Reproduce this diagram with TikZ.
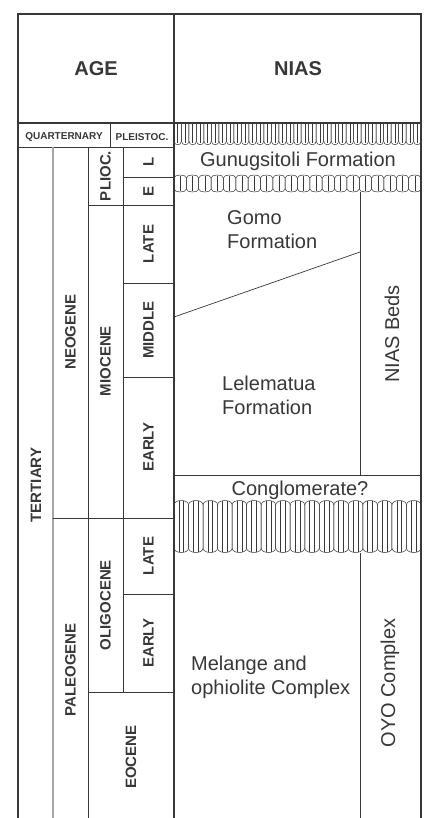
\documentclass[tikz,border=0pt]{standalone}
\usepackage{fontspec}
\setmainfont{Liberation Sans}
\usepackage{tikz}
\usetikzlibrary{calc}
\definecolor{ink}{HTML}{383838}
\tikzset{
  frame/.style={draw=ink,line width=1.4pt},
  rule/.style={draw=ink,line width=0.7pt},
  hatch/.style={draw=ink,line width=0.5pt},
  headlabel/.style={font=\bfseries\fontsize{20}{20}\selectfont,text=ink,inner sep=0pt},
  smalllabel/.style={font=\bfseries\fontsize{10}{10}\selectfont,text=ink,inner sep=0pt},
  agelabel/.style={rotate=90,font=\bfseries\fontsize{15}{15}\selectfont,text=ink,inner sep=0pt},
  unitlabel/.style={font=\fontsize{20}{24}\selectfont,text=ink,inner sep=0pt,align=left},
  sidelabel/.style={rotate=90,font=\fontsize{20}{20}\selectfont,text=ink,inner sep=0pt}
}

\begin{document}
\begin{tikzpicture}[x=1pt,y=-1pt]
                    \useasboundingbox (0,0) rectangle (427,818);
                    \fill[white] (0,0) rectangle (427,818);
                    \draw[rule] (18,147) -- (174,147);
                    \draw[rule] (110,123) -- (110,147);
                    \draw[draw=gray!70,line width=1.5pt] (53,147) -- (53,830);
                    \draw[rule] (88,147) -- (88,830);
                    \draw[rule] (123,147) -- (123,692);
                    \draw[rule] (123,177) -- (174,177);
                    \draw[rule] (88,205) -- (174,205);
                    \draw[rule] (123,283) -- (174,283);
                    \draw[rule] (123,377) -- (174,377);
                    \draw[rule] (53,518) -- (174,518);
                    \draw[rule] (123,594) -- (174,594);
                    \draw[rule] (88,692) -- (174,692);
                    \draw[rule] (360,192) -- (360,475);
                    \draw[rule] (174,475) -- (421,475);
                    \draw[rule] (360,553) -- (360,830);
                    \coordinate (gomobase) at (174,317);
                    \coordinate (gomotop) at (360,252);
                    \draw[rule] (gomobase) -- (gomotop);
                    \foreach \i in {0,...,32}{
                        \pgfmathsetmacro\xl{174+\i*247/33}
                        \pgfmathsetmacro\xr{\xl+247/33}
                        \pgfmathsetmacro\xm{(\xl+\xr)/2}
                        \draw[hatch] (\xl,123) -- (\xl,141) .. controls (\xl,146) and (\xr,146) .. (\xr,141) -- (\xr,123);
                        \draw[hatch] (\xm,123) -- (\xm,143);
                    }
                    \foreach \i in {0,...,19}{
                        \pgfmathsetmacro\xl{174+\i*247/20}
                        \pgfmathsetmacro\xr{\xl+247/20}
                        \pgfmathsetmacro\xm{(\xl+\xr)/2}
                        \draw[hatch] (\xl,178) .. controls (\xl,174) and (\xr,174) .. (\xr,178) -- (\xr,189) .. controls (\xr,193) and (\xl,193) .. (\xl,189) -- cycle;
                        \draw[hatch] (\xm,176) -- (\xm,191);
                    }
                    \foreach \i in {0,...,16}{
                        \pgfmathsetmacro\xl{174+\i*247/17}
                        \pgfmathsetmacro\xr{\xl+247/17}
                        \pgfmathsetmacro\xa{\xl+247/51}
                        \pgfmathsetmacro\xb{\xl+2*247/51}
                        \draw[hatch] (\xl,505) .. controls (\xl,499) and (\xr,499) .. (\xr,505) -- (\xr,548) .. controls (\xr,554) and (\xl,554) .. (\xl,548) -- cycle;
                        \draw[hatch] (\xa,501) -- (\xa,552);
                        \draw[hatch] (\xb,501) -- (\xb,552);
                    }
                    \draw[frame] (18,830) -- (18,14) -- (421,14) -- (421,830);
                    \draw[frame] (174,14) -- (174,830);
                    \draw[frame] (18,123) -- (421,123);
                    \node[headlabel] (age) at (96,69) {AGE};
                    \node[headlabel] (nias) at (298,69) {NIAS};
                    \node[smalllabel] (quart) at (64,137) {QUARTERNARY};
                    \node[smalllabel] (pleist) at (142,137) {PLEISTOC.};
                    \node[agelabel] (tert) at (36,485) {TERTIARY};
                    \node[agelabel] (neo) at (70.5,332) {NEOGENE};
                    \node[agelabel] (paleo) at (70.5,670) {PALEOGENE};
                    \node[agelabel] (plio) at (105.5,176) {PLIOC.};
                    \node[agelabel] (mio) at (105.5,361) {MIOCENE};
                    \node[agelabel] (oligo) at (105.5,605) {OLIGOCENE};
                    \node[agelabel] (eo) at (131,757) {EOCENE};
                    \node[agelabel] (pliolate) at (148.5,162) {L};
                    \node[agelabel] (plioearly) at (148.5,191) {E};
                    \node[agelabel] (miolate) at (148.5,244) {LATE};
                    \node[agelabel] (miomid) at (148.5,330) {MIDDLE};
                    \node[agelabel] (mioearly) at (148.5,447) {EARLY};
                    \node[agelabel] (oligolate) at (148.5,556) {LATE};
                    \node[agelabel] (oligoearly) at (148.5,643) {EARLY};
                    \node[unitlabel] (gunung) at (298,161) {Gunugsitoli Formation};
                    \node[unitlabel,anchor=west] (gomo) at (227,230) {Gomo\\Formation};
                    \node[unitlabel,anchor=west] (lele) at (222,395) {Lelematua\\Formation};
                    \node[unitlabel] (congl) at (300,490) {Conglomerate?};
                    \node[unitlabel,anchor=west] (melange) at (191,677) {Melange and\\ophiolite Complex};
                    \node[sidelabel] (beds) at (392,334) {NIAS Beds};
                    \node[sidelabel] (oyo) at (390,683) {OYO Complex};
                \end{tikzpicture}
\end{document}
